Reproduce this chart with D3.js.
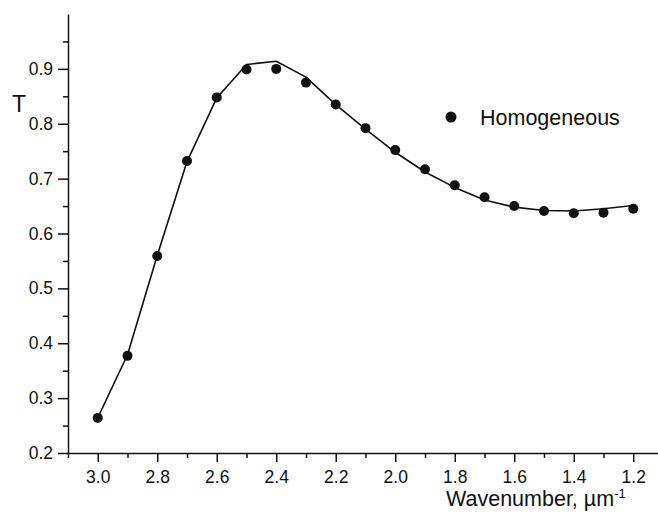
<!DOCTYPE html>
<html>
<head>
<meta charset="utf-8">
<script src="https://cdn.jsdelivr.net/npm/d3@7/dist/d3.min.js"></script>
<style>
  html, body { margin: 0; padding: 0; background: #fff; }
  svg { display: block; }
  text { font-family: "Liberation Sans", Arial, sans-serif; fill: #111; }
</style>
</head>
<body>
<svg id="chart" width="658" height="517"></svg>
<script>
// Wavenumber grid (µm^-1), measured transmittance points and the model curve
const wavenumbers = [3.0, 2.9, 2.8, 2.7, 2.6, 2.5, 2.4, 2.3, 2.2, 2.1, 2.0, 1.9, 1.8, 1.7, 1.6, 1.5, 1.4, 1.3, 1.2];
const homogeneous = [0.264, 0.377, 0.559, 0.732, 0.848, 0.899, 0.900, 0.875, 0.835, 0.792, 0.752, 0.717, 0.688, 0.666, 0.650, 0.641, 0.637, 0.638, 0.645];
const modelCurve  = [0.264, 0.379, 0.560, 0.731, 0.847, 0.908, 0.914, 0.885, 0.835, 0.790, 0.748, 0.712, 0.684, 0.661, 0.648, 0.642, 0.641, 0.645, 0.651];

const xMajorTicks = [3.0, 2.8, 2.6, 2.4, 2.2, 2.0, 1.8, 1.6, 1.4, 1.2];
const xMinorTicks = [3.1, 2.9, 2.7, 2.5, 2.3, 2.1, 1.9, 1.7, 1.5, 1.3, 1.1];
const yMajorTicks = [0.2, 0.3, 0.4, 0.5, 0.6, 0.7, 0.8, 0.9];
const yMinorTicks = [0.25, 0.35, 0.45, 0.55, 0.65, 0.75, 0.85, 0.95];
const legendLabel = "Homogeneous";

const svg = d3.select("#chart");

const x = d3.scaleLinear().domain([3.1, 1.1]).range([68, 663]);
const y = d3.scaleLinear().domain([0.2, 1.0]).range([453, 14]);

const fmt = d3.format(".1f");

// Axes: major ticks with labels, minor ticks without
const gx = svg.append("g").attr("transform", "translate(0,453)");
gx.call(d3.axisBottom(x).tickValues(xMajorTicks).tickFormat(fmt).tickSize(9).tickPadding(9).tickSizeOuter(0));
const gxMinor = svg.append("g").attr("transform", "translate(0,453)");
gxMinor.call(d3.axisBottom(x).tickValues(xMinorTicks).tickFormat("").tickSize(5).tickSizeOuter(0));
gxMinor.select(".domain").remove();

const gy = svg.append("g").attr("transform", "translate(68,0)");
gy.call(d3.axisLeft(y).tickValues(yMajorTicks).tickFormat(fmt).tickSize(10).tickPadding(5).tickSizeOuter(0));
const gyMinor = svg.append("g").attr("transform", "translate(68,0)");
gyMinor.call(d3.axisLeft(y).tickValues(yMinorTicks).tickFormat("").tickSize(5).tickSizeOuter(0));
gyMinor.select(".domain").remove();

svg.selectAll(".domain, .tick line").attr("stroke", "#111").attr("stroke-width", 1.5);
svg.selectAll(".tick text").attr("font-size", 17.5).attr("font-family", "Liberation Sans, Arial, sans-serif").attr("fill", "#111");

// Axis titles
svg.append("text").attr("x", 12).attr("y", 112).attr("font-size", 23).text("T");

const xt = svg.append("text").attr("x", 446).attr("y", 506).attr("font-size", 21.5);
xt.append("tspan").text("Wavenumber, \u00b5m");
xt.append("tspan").attr("font-size", 13).attr("dy", -8.5).text("-1");

// Model curve
const line = d3.line()
  .x((d, i) => x(wavenumbers[i]))
  .y(d => y(d));
svg.append("path")
  .datum(modelCurve)
  .attr("d", line)
  .attr("fill", "none")
  .attr("stroke", "#111")
  .attr("stroke-width", 1.6)
  .attr("stroke-linejoin", "round");

// Measured points
svg.append("g").selectAll("circle")
  .data(homogeneous)
  .join("circle")
  .attr("cx", (d, i) => x(wavenumbers[i]))
  .attr("cy", d => y(d))
  .attr("r", 5)
  .attr("fill", "#111");

// Legend
const lg = svg.append("g");
lg.append("circle").attr("cx", 451).attr("cy", 117).attr("r", 5.5).attr("fill", "#111");
lg.append("text").attr("x", 480).attr("y", 125).attr("font-size", 21.5).text(legendLabel);
</script>
</body>
</html>
